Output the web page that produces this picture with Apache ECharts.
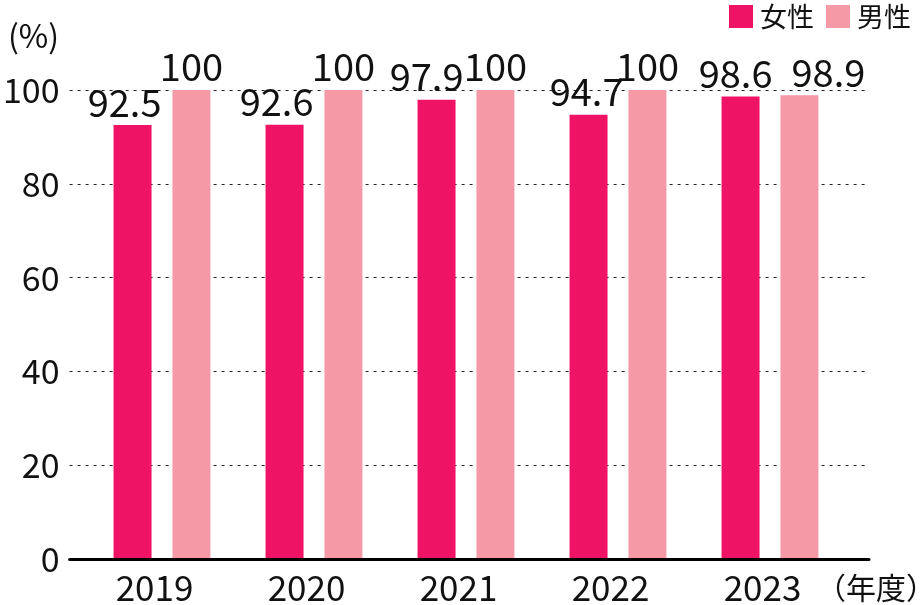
<!DOCTYPE html>
<html><head><meta charset="utf-8">
<script src="https://cdn.jsdelivr.net/npm/echarts@6/dist/echarts.min.js"></script>
<style>html,body{margin:0;padding:0;background:#fff}#c{width:922px;height:605px}</style>
</head><body><div id="c"></div>
<script>
const categories = ['2019', '2020', '2021', '2022', '2023'];
const female = [92.5, 92.6, 97.9, 94.7, 98.6];
const male = [100, 100, 100, 100, 98.9];
const yTicks = [0, 20, 40, 60, 80, 100];
const femaleLabelShift = [-8, -8, -10, -2, -5];
const maleLabelShift = [0, 0, 0, 0, 29];

const FONT = '"Noto Sans CJK JP", "Noto Sans", sans-serif';
const C_F = '#EE1365';
const C_M = '#F499A5';

const chart = echarts.init(document.getElementById('c'), null, {renderer: 'canvas'});
function items(vals, shifts) {
  return vals.map((v, i) => ({value: v, label: {offset: [shifts[i], 0]}}));
}
chart.setOption({
  animation: false,
  textStyle: {fontFamily: FONT},
  legend: {
    right: 6, top: -2, itemWidth: 24, itemHeight: 23, itemGap: 12,
    icon: 'rect',
    textStyle: {fontSize: 27, color: '#111', fontFamily: FONT, padding: [0, 0, 0, 2]},
    data: ['女性', '男性']
  },
  grid: [
    {left: 86, right: 76, top: 90, bottom: 46},
    {left: 62, right: 53, top: 90, bottom: 46}
  ],
  xAxis: [
    {type: 'category', gridIndex: 0, data: categories,
     axisLine: {show: false}, axisTick: {show: false},
     axisLabel: {fontSize: 35, color: '#111', margin: 12, fontFamily: FONT, padding: [0, 15, 0, 0]}},
    {type: 'value', gridIndex: 1, min: 0, max: 1,
     axisLine: {show: true, onZero: false, lineStyle: {color: '#000', width: 3}},
     axisTick: {show: false}, axisLabel: {show: false}, splitLine: {show: false}}
  ],
  yAxis: [
    {type: 'value', gridIndex: 0, min: 0, max: 100, interval: 20,
     axisLine: {show: false}, axisTick: {show: false}, axisLabel: {show: false}, splitLine: {show: false}},
    {type: 'value', gridIndex: 1, min: yTicks[0], max: yTicks[yTicks.length - 1], interval: 20,
     axisLine: {show: false}, axisTick: {show: false},
     axisLabel: {fontSize: 34, color: '#111', margin: 10, fontFamily: FONT},
     splitLine: {show: true, lineStyle: {color: '#222', type: [3, 5], width: 1}}}
  ],
  graphic: [
    {type: 'text', left: 8, top: 20,
     style: {text: '(%)', fontSize: 32, fill: '#111', fontFamily: FONT}},
    {type: 'text', right: -14, bottom: 2,
     style: {text: '（年度）', fontSize: 30, fill: '#111', fontFamily: FONT}}
  ],
  series: [
    {name: '女性', type: 'bar', xAxisIndex: 0, yAxisIndex: 0, barWidth: 38, barGap: '55%',
     itemStyle: {color: C_F}, data: items(female, femaleLabelShift),
     label: {show: true, position: 'top', distance: 4, fontSize: 38, color: '#111', fontFamily: FONT}},
    {name: '男性', type: 'bar', xAxisIndex: 0, yAxisIndex: 0, barWidth: 38, barGap: '55%',
     itemStyle: {color: C_M}, data: items(male, maleLabelShift),
     label: {show: true, position: 'top', distance: 4, fontSize: 38, color: '#111', fontFamily: FONT}}
  ]
});
</script></body></html>
